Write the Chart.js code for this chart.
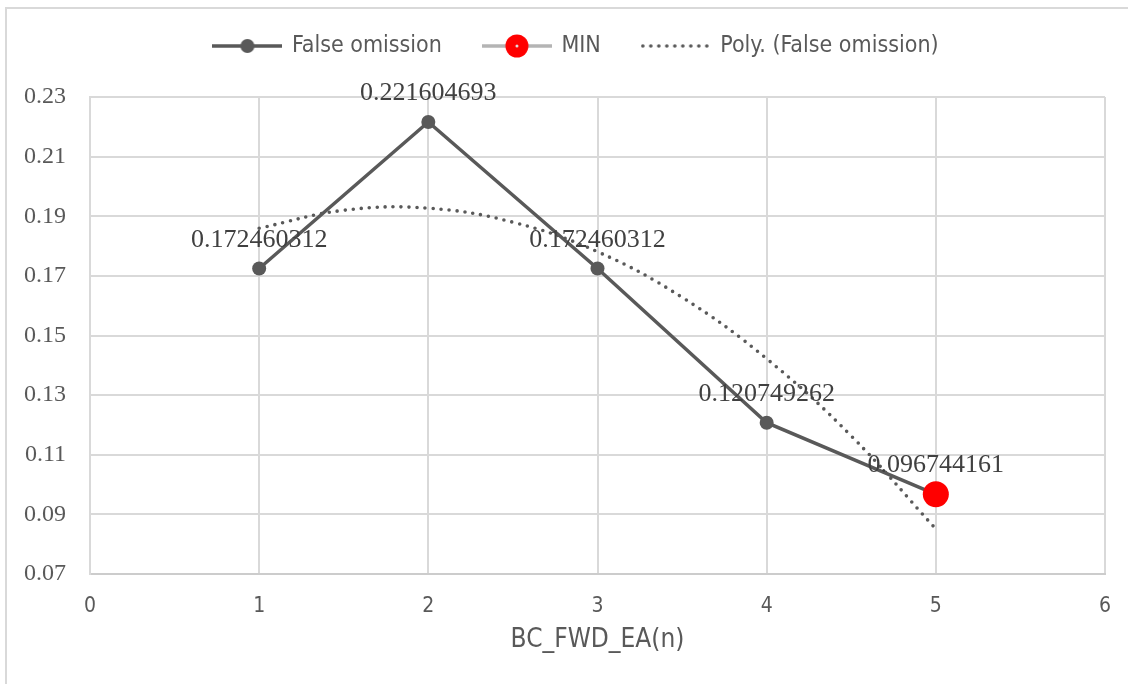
<!DOCTYPE html>
<html>
<head>
<meta charset="utf-8">
<title>False omission</title>
<script src="https://cdn.jsdelivr.net/npm/chart.js@4.4.1/dist/chart.umd.min.js"></script>
<style>
  html, body { margin: 0; padding: 0; background: #fff; }
  #wrap { width: 1128px; height: 684px; }
</style>
</head>
<body>
<div id="wrap"><canvas id="myChart" width="1128" height="684"></canvas></div>
<script>
// series values
const xValues = [1, 2, 3, 4, 5];
const falseOmission = [0.172460312, 0.221604693, 0.172460312, 0.120749262, 0.096744161];
const minX = [5];
const minValues = [0.096744161];
// polynomial (order 2) trend line, sampled along the curve
const trendX = [1, 1.5, 2, 2.5, 3, 3.5, 4, 4.5, 5];
const trendValues = [0.1860, 0.1920, 0.1927, 0.1880, 0.1781, 0.1628, 0.1422, 0.1163, 0.0851];
// axis ticks
const xTicks = [0, 1, 2, 3, 4, 5, 6];
const yTicks = [0.07, 0.09, 0.11, 0.13, 0.15, 0.17, 0.19, 0.21, 0.23];
const legendNames = ['False omission', 'MIN', 'Poly. (False omission)'];

const GRID = '#d9d9d9';
const DARK = '#595959';
const SANS = '"DejaVu Sans Condensed", "DejaVu Sans", sans-serif';
const SERIF = '"Liberation Serif", serif';

function toPoints(xs, ys) {
    return xs.map((x, i) => ({x: x, y: ys[i]}));
}

// small canvases used as legend markers (line with marker in the middle)
function swatch(draw) {
    const c = document.createElement('canvas');
    c.width = 70;
    c.height = 26;
    draw(c.getContext('2d'), c.width, c.height / 2);
    return c;
}
const lineSwatch = swatch((g, w, m) => {
    g.strokeStyle = DARK; g.lineWidth = 3.5;
    g.beginPath(); g.moveTo(0, m); g.lineTo(w, m); g.stroke();
    g.fillStyle = DARK;
    g.beginPath(); g.arc(w / 2, m, 7, 0, Math.PI * 2); g.fill();
});
const minSwatch = swatch((g, w, m) => {
    g.strokeStyle = '#b4b4b4'; g.lineWidth = 3.5;
    g.beginPath(); g.moveTo(0, m); g.lineTo(w, m); g.stroke();
    g.fillStyle = '#ff0000';
    g.beginPath(); g.arc(w / 2, m, 11.5, 0, Math.PI * 2); g.fill();
    g.fillStyle = '#e0e0e0';
    g.beginPath(); g.arc(w / 2, m, 1.5, 0, Math.PI * 2); g.fill();
});
const dotSwatch = swatch((g, w, m) => {
    g.fillStyle = DARK;
    for (let x = 2; x < w - 2; x += 8) {
        g.beginPath(); g.arc(x, m, 1.8, 0, Math.PI * 2); g.fill();
    }
});
const swatches = [lineSwatch, minSwatch, dotSwatch];

// white background and the thin frame round the chart
const frame = {
    id: 'frame',
    beforeDraw(chart) {
        const ctx = chart.ctx;
        ctx.save();
        ctx.fillStyle = '#fff';
        ctx.fillRect(0, 0, chart.width, chart.height);
        ctx.strokeStyle = GRID;
        ctx.lineWidth = 2;
        ctx.beginPath();
        ctx.moveTo(6, chart.height);
        ctx.lineTo(6, 8);
        ctx.lineTo(chart.width, 8);
        ctx.stroke();
        ctx.restore();
    }
};

// legend box reserves the band above the plot; its row sits at y = 46
const legendBand = {
    id: 'legendBand',
    beforeInit(chart) {
        const fit = chart.legend.fit;
        chart.legend.fit = function () {
            fit.bind(chart.legend)();
            this.height = 97;
        };
    },
    afterLayout(chart) {
        const lg = chart.legend;
        const pad = lg.options.labels.padding;
        const size = lg.options.labels.font.size;
        lg.top = 46 - pad - size / 2;
        lg.left += 19;
        lg.right += 19;
    }
};

// value labels above the False omission points
const pointLabels = {
    id: 'pointLabels',
    afterDatasetsDraw(chart) {
        const meta = chart.getDatasetMeta(0);
        const ctx = chart.ctx;
        ctx.save();
        ctx.font = '26px ' + SERIF;
        ctx.fillStyle = '#404040';
        ctx.textAlign = 'center';
        ctx.textBaseline = 'alphabetic';
        meta.data.forEach((pt, i) => {
            ctx.fillText(String(falseOmission[i]), pt.x, pt.y - 22);
        });
        ctx.restore();
    }
};

function loadChart() {
    const ctx = document.getElementById('myChart').getContext('2d');

    const myChart = new Chart(ctx, {
        type: 'line',
        data: {
            datasets: [{
                label: legendNames[0],
                data: toPoints(xValues, falseOmission),
                borderColor: DARK,
                borderWidth: 3.5,
                backgroundColor: DARK,
                pointRadius: 7,
                pointBorderWidth: 0,
                pointBackgroundColor: DARK,
                tension: 0,
                order: 1
            }, {
                label: legendNames[1],
                data: toPoints(minX, minValues),
                showLine: false,
                borderColor: '#b4b4b4',
                backgroundColor: '#ff0000',
                pointRadius: 13,
                pointBorderWidth: 0,
                pointBackgroundColor: '#ff0000',
                order: 0
            }, {
                label: legendNames[2],
                data: toPoints(trendX, trendValues),
                borderColor: DARK,
                borderWidth: 3.6,
                borderDash: [0, 8],
                borderCapStyle: 'round',
                pointRadius: 0,
                tension: 0.4,
                fill: false,
                order: 2
            }]
        },
        options: {
            responsive: false,
            animation: false,
            layout: {
                padding: {top: 0, left: 10, right: 23, bottom: 28.4}
            },
            plugins: {
                tooltip: {enabled: false},
                legend: {
                    position: 'top',
                    align: 'center',
                    labels: {
                        usePointStyle: true,
                        pointStyleWidth: 66,
                        padding: 42,
                        color: DARK,
                        font: {family: SANS, size: 23},
                        generateLabels: (chart) => chart.data.datasets.map((ds, i) => ({
                            text: ds.label,
                            pointStyle: swatches[i],
                            fillStyle: DARK,
                            strokeStyle: DARK,
                            lineWidth: 0,
                            fontColor: DARK,
                            hidden: false,
                            datasetIndex: i
                        }))
                    }
                }
            },
            scales: {
                x: {
                    type: 'linear',
                    min: 0,
                    max: 6,
                    afterFit: (s) => {
                        s.height = 81.6;
                        s.paddingLeft = 0;
                        s.paddingRight = 0;
                    },
                    afterBuildTicks: (s) => { s.ticks = xTicks.map(v => ({value: v})); },
                    grid: {color: GRID, lineWidth: 2, drawTicks: false},
                    border: {color: '#cccccc', width: 2},
                    ticks: {
                        padding: 20,
                        color: DARK,
                        font: {family: SANS, size: 21},
                        callback: (v) => String(v)
                    },
                    title: {
                        display: true,
                        text: 'BC_FWD_EA(n)',
                        color: DARK,
                        padding: {top: 0, bottom: 0},
                        font: {family: SANS, size: 26}
                    }
                },
                y: {
                    min: 0.07,
                    max: 0.23,
                    afterFit: (s) => { s.width = 80; },
                    afterBuildTicks: (s) => { s.ticks = yTicks.map(v => ({value: v})); },
                    grid: {color: GRID, lineWidth: 2, drawTicks: false},
                    border: {color: GRID, width: 2},
                    ticks: {
                        padding: 24,
                        color: DARK,
                        font: {family: SERIF, size: 24},
                        callback: (v) => v.toFixed(2)
                    }
                }
            }
        },
        plugins: [frame, legendBand, pointLabels]
    });
}
document.addEventListener('DOMContentLoaded', loadChart);
</script>
</body>
</html>
